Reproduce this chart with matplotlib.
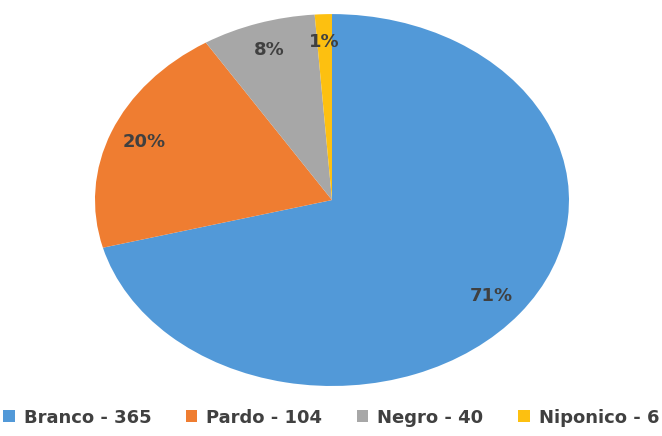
import matplotlib.pyplot as plt

labels = ["Branco", "Pardo", "Negro", "Niponico"]
counts = [365, 104, 40, 6]
colors = ["#5299D8", "#EF7D31", "#A7A7A7", "#FDC010"]

plt.rcParams['font.family'] = ['DejaVu Sans']

fig = plt.figure(figsize=(6.62, 4.36), dpi=100)
# pie is drawn stretched (not equal aspect), like the original
ax = fig.add_axes([0.1435, 0.1147, 0.716, 0.853])

wedges, texts, autotexts = ax.pie(
    counts, colors=colors, startangle=90, counterclock=False,
    autopct=lambda p: f"{p:.0f}%", pctdistance=0.85,
    wedgeprops=dict(edgecolor="none"),
    textprops=dict(color="#404040", fontsize=13, fontweight="bold"))
ax.set_aspect("auto")
ax.set_xlim(-1, 1)
ax.set_ylim(-1, 1)
ax.axis("off")

leg_labels = [f"{l} - {c}" for l, c in zip(labels, counts)]
fig.legend(wedges, leg_labels, loc="center", bbox_to_anchor=(0.5, 0.042),
           ncol=4, frameon=False, handlelength=0.65, handleheight=0.65,
           handletextpad=0.5, columnspacing=1.9,
           prop=dict(size=13, weight="bold"), labelcolor="#404040")

fig.savefig("out.png", dpi=100)
